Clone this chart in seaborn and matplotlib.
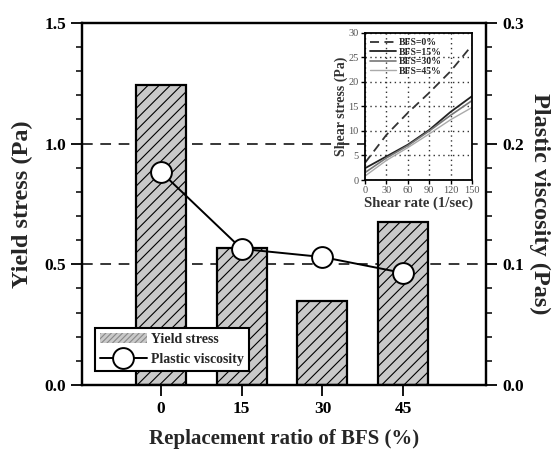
import matplotlib
matplotlib.use("Agg")
import matplotlib.pyplot as plt
import seaborn as sns
import pandas as pd
from matplotlib.ticker import MultipleLocator
from matplotlib.patches import Patch
from matplotlib.lines import Line2D

# ---- data ----
ratios = [0, 15, 30, 45]
yield_stress = [1.243, 0.568, 0.348, 0.675]
plastic_viscosity = [0.1765, 0.1127, 0.106, 0.0928]

shear_rate = [0, 30, 60, 90, 120, 150]
stress_bfs0 = [3.5, 9.2, 13.7, 17.8, 22.2, 27.5]
stress_bfs15 = [2.4, 4.8, 7.2, 10.2, 13.9, 17.1]
stress_bfs30 = [1.5, 4.5, 7.0, 10.0, 13.2, 16.2]
stress_bfs45 = [0.8, 4.0, 6.6, 9.4, 12.3, 14.8]

sns.set_theme(style="ticks")
plt.rcParams["font.family"] = ["Liberation Serif", "DejaVu Serif"]
plt.rcParams["font.weight"] = "bold"
plt.rcParams["hatch.linewidth"] = 0.8

fig = plt.figure(figsize=(5.53, 4.5), dpi=100)
ax = fig.add_axes([0.148, 0.1444, 0.731, 0.805])

df = pd.DataFrame({"ratio": ratios, "yield": yield_stress, "visc": plastic_viscosity})
sns.barplot(data=df, x="ratio", y="yield", native_scale=True, width=0.62,
            color="#c9c9c9", edgecolor="black", linewidth=1.6, ax=ax, zorder=2)
for p in ax.patches:
    p.set_hatch("///")
    p.set_facecolor("#c9c9c9")

ax.set_xlim(-14.7, 60.4)
ax.set_ylim(0, 1.5)
ax.set_xticks(ratios)
ax.set_xticklabels([str(r) for r in ratios])
ax.yaxis.set_major_locator(MultipleLocator(0.5))
ax.yaxis.set_minor_locator(MultipleLocator(0.1))
ax.yaxis.set_major_formatter(matplotlib.ticker.FormatStrFormatter("%.1f"))
ax.set_axisbelow(True)
ax.yaxis.grid(True, which="major", color="black", linestyle=(0, (7, 5)), linewidth=1.1)
ax.set_xlabel("Replacement ratio of BFS (%)", fontsize=15, fontweight="bold", labelpad=9)
ax.set_ylabel("Yield stress (Pa)", fontsize=17.5, fontweight="bold", labelpad=8)
for s in ax.spines.values():
    s.set_linewidth(1.6)
    s.set_color("black")
ax.tick_params(axis="both", which="major", direction="out", length=8, width=1.3,
               labelsize=12.5, colors="black")
ax.tick_params(axis="y", which="minor", direction="out", length=4, width=1.1, colors="black")
for t in ax.get_xticklabels() + ax.get_yticklabels():
    t.set_fontweight("bold")

ax2 = ax.twinx()
sns.lineplot(data=df, x="ratio", y="visc", color="black", linewidth=1.4, marker="o",
             markersize=15, markerfacecolor="white", markeredgecolor="black",
             markeredgewidth=1.4, ax=ax2)
ax2.set_ylim(0, 0.3)
ax2.yaxis.set_major_locator(MultipleLocator(0.1))
ax2.yaxis.set_minor_locator(MultipleLocator(0.02))
ax2.yaxis.set_major_formatter(matplotlib.ticker.FormatStrFormatter("%.1f"))
ax2.set_ylabel("Plastic viscosity (Pas)", fontsize=17.5, fontweight="bold",
               rotation=-90, labelpad=4, va="center")
ax2.yaxis.set_label_coords(1.132, 0.5)
ax2.set_xlabel("")
for s in ax2.spines.values():
    s.set_linewidth(1.6)
    s.set_color("black")
ax2.tick_params(axis="y", which="major", direction="out", length=8, width=1.3,
                labelsize=12.5, colors="black")
ax2.tick_params(axis="y", which="minor", direction="out", length=4, width=1.1, colors="black")
for t in ax2.get_yticklabels():
    t.set_fontweight("bold")

handles = [Patch(facecolor="#c9c9c9", edgecolor="#888888", hatch="//////", linewidth=0),
           Line2D([], [], color="black", linewidth=1.4, marker="o", markersize=15,
                  markerfacecolor="white", markeredgecolor="black", markeredgewidth=1.4)]
leg = ax2.legend(handles, ["Yield stress", "Plastic viscosity"], loc="lower left",
                 bbox_to_anchor=(0.015, 0.02), fancybox=False, edgecolor="black",
                 framealpha=1, handlelength=3.4, handletextpad=0.3, borderpad=0.35,
                 labelspacing=0.5, prop={"size": 10, "weight": "bold"})
leg.get_frame().set_linewidth(1.5)

# ---- inset ----
axi = fig.add_axes([0.660, 0.600, 0.1935, 0.3267])
ins = pd.DataFrame({"rate": shear_rate * 4,
                    "stress": stress_bfs0 + stress_bfs15 + stress_bfs30 + stress_bfs45,
                    "BFS": ["BFS=0%"] * 6 + ["BFS=15%"] * 6 + ["BFS=30%"] * 6 + ["BFS=45%"] * 6})
styles = {"BFS=0%": dict(color="#333333", ls=(0, (5, 3)), lw=1.3),
          "BFS=15%": dict(color="#222222", ls="-", lw=1.3),
          "BFS=30%": dict(color="#777777", ls="-", lw=1.2),
          "BFS=45%": dict(color="#aaaaaa", ls="-", lw=1.0)}
for name, st in styles.items():
    sub = ins[ins["BFS"] == name]
    sns.lineplot(data=sub, x="rate", y="stress", ax=axi, color=st["color"],
                 linestyle=st["ls"], linewidth=st["lw"], label=name)
axi.set_xlim(0, 150)
axi.set_ylim(0, 30)
axi.set_xticks([0, 30, 60, 90, 120, 150])
axi.set_yticks([0, 5, 10, 15, 20, 25, 30])
axi.grid(True, color="#333333", linestyle=(0, (1, 2.5)), linewidth=1.0)
axi.tick_params(axis="both", direction="out", length=3, width=1.0, labelsize=7.5,
                colors="black", pad=1.5)
for t in axi.get_xticklabels() + axi.get_yticklabels():
    t.set_color("#555555")
    t.set_fontweight("normal")
for s in axi.spines.values():
    s.set_linewidth(1.3)
    s.set_color("black")
axi.set_xlabel("Shear rate (1/sec)", fontsize=10.5, fontweight="bold", labelpad=1, color="#333333")
axi.set_ylabel("Shear stress (Pa)", fontsize=10, fontweight="bold", labelpad=0, color="#333333")
axi.legend(loc="upper left", frameon=False, fontsize=7, handlelength=2.6,
           handletextpad=0.3, labelspacing=0.05, borderaxespad=0.15)

fig.savefig("out.png", dpi=100)
